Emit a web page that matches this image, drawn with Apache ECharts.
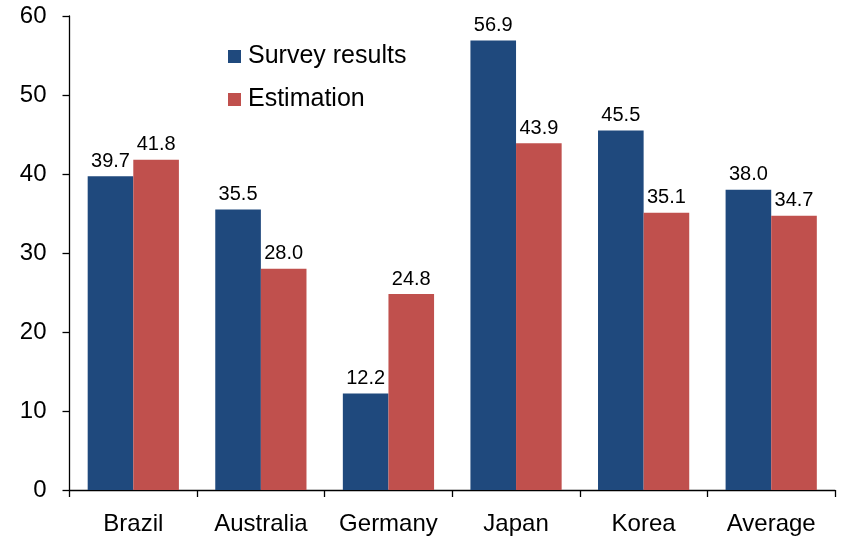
<!DOCTYPE html>
<html>
<head>
<meta charset="utf-8">
<script src="https://cdn.jsdelivr.net/npm/echarts@6/dist/echarts.min.js"></script>
<style>html,body{margin:0;padding:0;background:#fff;}#c{width:841px;height:536px;}</style>
</head>
<body>
<div id="c"></div>
<script>
var categories = ['Brazil', 'Australia', 'Germany', 'Japan', 'Korea', 'Average'];
var surveyResults = [39.7, 35.5, 12.2, 56.9, 45.5, 38.0];
var estimation = [41.8, 28.0, 24.8, 43.9, 35.1, 34.7];
var seriesNames = ['Survey results', 'Estimation'];

var FONT = '"Liberation Sans", Arial, sans-serif';
var chart = echarts.init(document.getElementById('c'), null, {renderer: 'canvas'});
var labelCfg = {
  show: true, position: 'top', distance: 5,
  fontFamily: FONT, fontSize: 20, color: '#000',
  formatter: function (p) { return p.value.toFixed(1); }
};
chart.setOption({
  animation: false,
  backgroundColor: '#fff',
  grid: {left: 69.5, right: 6, top: 16, bottom: 45.3, containLabel: false},
  legend: {
    orient: 'vertical', left: 228, top: 44, padding: 0,
    itemWidth: 13, itemHeight: 13, itemGap: 18,
    icon: 'rect',
    textStyle: {fontFamily: FONT, fontSize: 25, color: '#000', padding: [0, 0, 0, 2]},
    data: seriesNames
  },
  xAxis: {
    type: 'category', data: categories,
    axisLine: {show: true, lineStyle: {color: '#000', width: 1.3}},
    axisTick: {show: true, interval: 0, length: 7, lineStyle: {color: '#000', width: 1.3}},
    axisLabel: {interval: 0, hideOverlap: false, fontFamily: FONT, fontSize: 24, color: '#000', margin: 22}
  },
  yAxis: {
    type: 'value', min: 0, max: 60, interval: 10,
    axisLine: {show: true, lineStyle: {color: '#000', width: 1.3}},
    axisTick: {show: true, length: 7, lineStyle: {color: '#000', width: 1.3}},
    splitLine: {show: false},
    axisLabel: {fontFamily: FONT, fontSize: 24, color: '#000', margin: 23}
  },
  series: [
    {name: seriesNames[0], type: 'bar', data: surveyResults, barGap: '0%', barCategoryGap: '28.5%',
     itemStyle: {color: '#1F497D'}, label: labelCfg},
    {name: seriesNames[1], type: 'bar', data: estimation,
     itemStyle: {color: '#C0504D'}, label: labelCfg}
  ]
});
</script>
</body>
</html>
